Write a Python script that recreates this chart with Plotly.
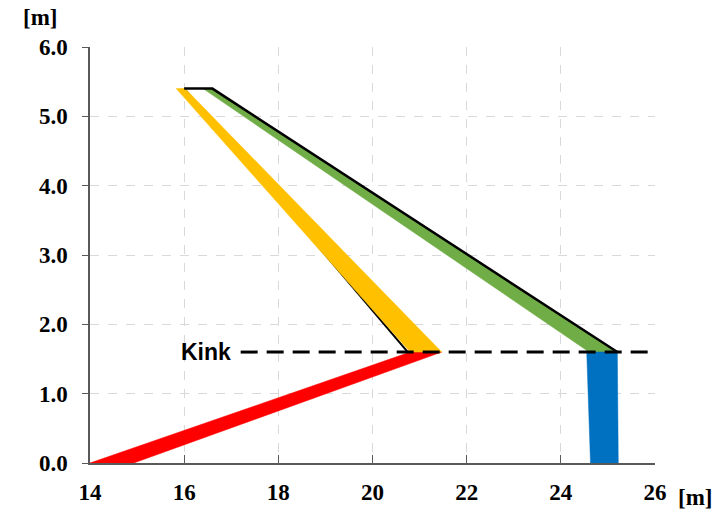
import plotly.graph_objects as go

# Polygons (x [m], y [m])
red_x = [14.0, 14.93, 21.47, 20.8]
red_y = [0.0, 0.0, 1.6, 1.6]
yellow_x = [15.83, 16.02, 21.47, 20.8]
yellow_y = [5.4, 5.4, 1.6, 1.6]
green_x = [16.4, 16.6, 25.2, 24.6]
green_y = [5.4, 5.4, 1.6, 1.6]
blue_x = [24.55, 25.2, 25.22, 24.63]
blue_y = [1.6, 1.6, 0.0, 0.0]
black_top_x = [16.0, 16.6, 25.2]
black_top_y = [5.4, 5.4, 1.6]
black_left_x = [16.0, 20.75]
black_left_y = [5.4, 1.6]
kink_x = [17.2, 25.95]
kink_y = [1.6, 1.6]

x_ticks = [14, 16, 18, 20, 22, 24, 26]
y_ticks = [0, 1, 2, 3, 4, 5, 6]
y_tick_text = ["0.0", "1.0", "2.0", "3.0", "4.0", "5.0", "6.0"]

fig = go.Figure()

def poly(x, y, color):
    fig.add_trace(go.Scatter(x=x + [x[0]], y=y + [y[0]], fill="toself", fillcolor=color,
                             mode="lines", line=dict(color=color, width=0.5),
                             hoverinfo="skip", showlegend=False))

fig.add_trace(go.Scatter(x=black_left_x, y=black_left_y, mode="lines",
                         line=dict(color="black", width=2), showlegend=False))
poly(red_x, red_y, "#FF0000")
poly(yellow_x, yellow_y, "#FFC000")
poly(green_x, green_y, "#70AD47")
poly(blue_x, blue_y, "#0070C0")
fig.add_trace(go.Scatter(x=black_top_x, y=black_top_y, mode="lines",
                         line=dict(color="black", width=2.5), showlegend=False))
fig.add_trace(go.Scatter(x=kink_x, y=kink_y, mode="lines",
                         line=dict(color="black", width=3, dash="17px,9px"), showlegend=False))

fig.add_annotation(x=17.2, y=1.6, xref="x", yref="y", text="<b>Kink</b>", showarrow=False,
                   xanchor="right", xshift=-8, font=dict(family="Liberation Sans", size=23, color="black"))
fig.add_annotation(x=-0.088, y=1.072, xref="paper", yref="paper", text="<b>[m]</b>", showarrow=False,
                   xanchor="center", yanchor="middle",
                   font=dict(family="Liberation Serif", size=23, color="black"))
fig.add_annotation(x=1.07, y=-0.082, xref="paper", yref="paper", text="<b>[m]</b>", showarrow=False,
                   xanchor="center", yanchor="middle",
                   font=dict(family="Liberation Serif", size=23, color="black"))

fig.update_layout(
    width=717, height=511,
    margin=dict(l=90, r=62, t=47, b=48, autoexpand=False),
    plot_bgcolor="white", paper_bgcolor="white",
    font=dict(family="Liberation Serif", size=23, color="black"),
)
fig.update_xaxes(range=[14, 26], tickvals=x_ticks, ticktext=[f"<b>{v}</b>" for v in x_ticks],
                 showgrid=True, gridcolor="#d9d9d9", griddash="dash", gridwidth=1,
                 showline=True, linecolor="#595959", linewidth=1.5,
                 ticks="inside", ticklen=8, tickcolor="#595959", ticklabelstandoff=8,
                 zeroline=False, automargin=False)
fig.update_yaxes(range=[0, 6], tickvals=y_ticks, ticktext=[f"<b>{t}</b>" for t in y_tick_text],
                 showgrid=True, gridcolor="#d9d9d9", griddash="dash", gridwidth=1,
                 showline=True, linecolor="#595959", linewidth=1.5,
                 ticks="outside", ticklen=6, tickcolor="#595959", ticklabelstandoff=10,
                 zeroline=False, automargin=False)

fig.write_html("out.html")
